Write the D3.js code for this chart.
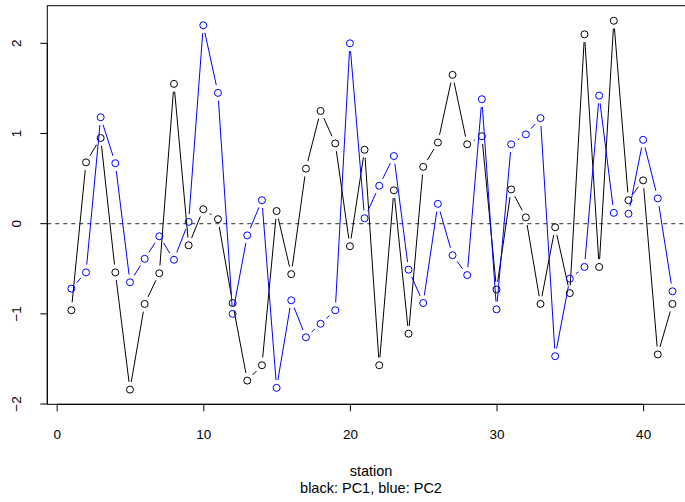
<!DOCTYPE html>
<html>
  <head>
    <meta charset="utf-8">
    <script src="https://d3js.org/d3.v7.min.js"></script>
    <style>
      body { margin: 0; background: #fff; }
      text { font-family: "Liberation Sans", Arial, sans-serif; }
    </style>
  </head>
  <body>
    <svg width="685" height="502"></svg>
    <script>
      // station index 1..42
      const stations = d3.range(1, 43);

      // PC1 (black)
      const pc1 = [-0.96, 0.68, 0.95, -0.54, -1.84, -0.89, -0.55, 1.55, -0.24, 0.16,
                   0.05, -0.88, -1.74, -1.57, 0.14, -0.56, 0.61, 1.25, 0.89, -0.25,
                   0.82, -1.57, 0.37, -1.22, 0.63, 0.90, 1.65, 0.88, 0.97, -0.73,
                   0.38, 0.07, -0.89, -0.04, -0.77, 2.10, -0.48, 2.25, 0.26, 0.48,
                   -1.45, -0.89];

      // PC2 (blue)
      const pc2 = [-0.72, -0.54, 1.18, 0.67, -0.65, -0.39, -0.14, -0.40, 0.02, 2.20,
                   1.45, -1.00, -0.13, 0.26, -1.82, -0.85, -1.26, -1.11, -0.96, 2.00,
                   0.06, 0.42, 0.75, -0.51, -0.88, 0.22, -0.35, -0.57, 1.38, -0.95,
                   0.88, 0.99, 1.17, -1.47, -0.61, -0.48, 1.42, 0.12, 0.11, 0.93,
                   0.28, -0.75];

      const xTicks = [0, 10, 20, 30, 40];
      const yTicks = [-2, -1, 0, 1, 2];
      const xLabel = 'station';
      const subLabel = 'black: PC1, blue: PC2';

      const svg = d3.select('svg');

      // plot region like R's default par(mar) with 4% axis extension
      const xr = 41 * 0.04;
      const x = d3.scaleLinear().domain([1 - xr, 42 + xr]).range([47.3, 696.5]);
      const y = d3.scaleLinear().domain([-2.003, 2.417]).range([404.3, 5.7]);

      svg.append('clipPath').attr('id', 'clip')
        .append('rect')
          .attr('x', x.range()[0]).attr('y', y.range()[1])
          .attr('width', x.range()[1] - x.range()[0])
          .attr('height', y.range()[0] - y.range()[1]);

      const plot = svg.append('g').attr('clip-path', 'url(#clip)');

      // dashed zero line
      plot.append('line')
        .attr('x1', x.range()[0]).attr('x2', x.range()[1])
        .attr('y1', y(0)).attr('y2', y(0))
        .attr('stroke', '#555').attr('stroke-width', 1.2)
        .attr('stroke-dasharray', '4,4');

      // type = "b": segments with gap around each point
      const gap = 7.8;
      function drawSeries(vals, color) {
        const pts = stations.map((s, i) => [x(s), y(vals[i])]);
        const segs = [];
        for (let i = 1; i < pts.length; i++) {
          const [x0, y0] = pts[i - 1], [x1, y1] = pts[i];
          const len = Math.hypot(x1 - x0, y1 - y0);
          const f = gap / len;
          if (f < 0.5) {
            segs.push([x0 + f * (x1 - x0), y0 + f * (y1 - y0), x1 - f * (x1 - x0), y1 - f * (y1 - y0)]);
          }
        }
        plot.append('g').selectAll('line').data(segs).join('line')
          .attr('x1', d => d[0]).attr('y1', d => d[1])
          .attr('x2', d => d[2]).attr('y2', d => d[3])
          .attr('stroke', color).attr('stroke-width', 1);
        plot.append('g').selectAll('circle').data(pts).join('circle')
          .attr('cx', d => d[0]).attr('cy', d => d[1])
          .attr('r', 3.5)
          .attr('fill', 'none').attr('stroke', color).attr('stroke-width', 1);
      }
      drawSeries(pc1, '#000');
      drawSeries(pc2, '#0000ff');

      // box
      svg.append('rect')
        .attr('x', x.range()[0]).attr('y', y.range()[1])
        .attr('width', x.range()[1] - x.range()[0])
        .attr('height', y.range()[0] - y.range()[1])
        .attr('fill', 'none').attr('stroke', '#000').attr('stroke-width', 1);

      const fmt = d => String(d).replace('-', '\u2212');

      // x axis
      const xAxis = svg.append('g')
        .attr('transform', `translate(0,${y.range()[0]})`)
        .call(d3.axisBottom(x).tickValues(xTicks).tickSize(7).tickFormat(fmt));
      xAxis.select('.domain').attr('d', `M${x(0)},0H${x(40)}`);
      xAxis.selectAll('text')
        .attr('font-size', 13.5)
        .attr('font-family', '"Liberation Sans", Arial, sans-serif')
        .attr('dy', null).attr('y', 34.8);

      // y axis
      const yAxis = svg.append('g')
        .attr('transform', `translate(${x.range()[0]},0)`)
        .call(d3.axisLeft(y).tickValues(yTicks).tickSize(7).tickFormat(fmt));
      yAxis.select('.domain').attr('d', `M0,${y(-2)}V${y(2)}`);
      yAxis.selectAll('.tick').attr('transform', null);
      yAxis.selectAll('.tick line').attr('y1', d => y(d)).attr('y2', d => y(d));
      yAxis.selectAll('text')
        .attr('font-size', 13.5)
        .attr('font-family', '"Liberation Sans", Arial, sans-serif')
        .attr('x', null).attr('dy', null).attr('y', 0)
        .attr('text-anchor', 'middle')
        .attr('transform', d => `translate(-26,${y(d)}) rotate(-90)`);

      // axis title (two lines)
      svg.append('text').attr('x', 371).attr('y', 475.5)
        .attr('text-anchor', 'middle').attr('font-size', 14.5).text(xLabel);
      svg.append('text').attr('x', 371).attr('y', 492.5)
        .attr('text-anchor', 'middle').attr('font-size', 14.5).text(subLabel);
    </script>
  </body>
</html>
